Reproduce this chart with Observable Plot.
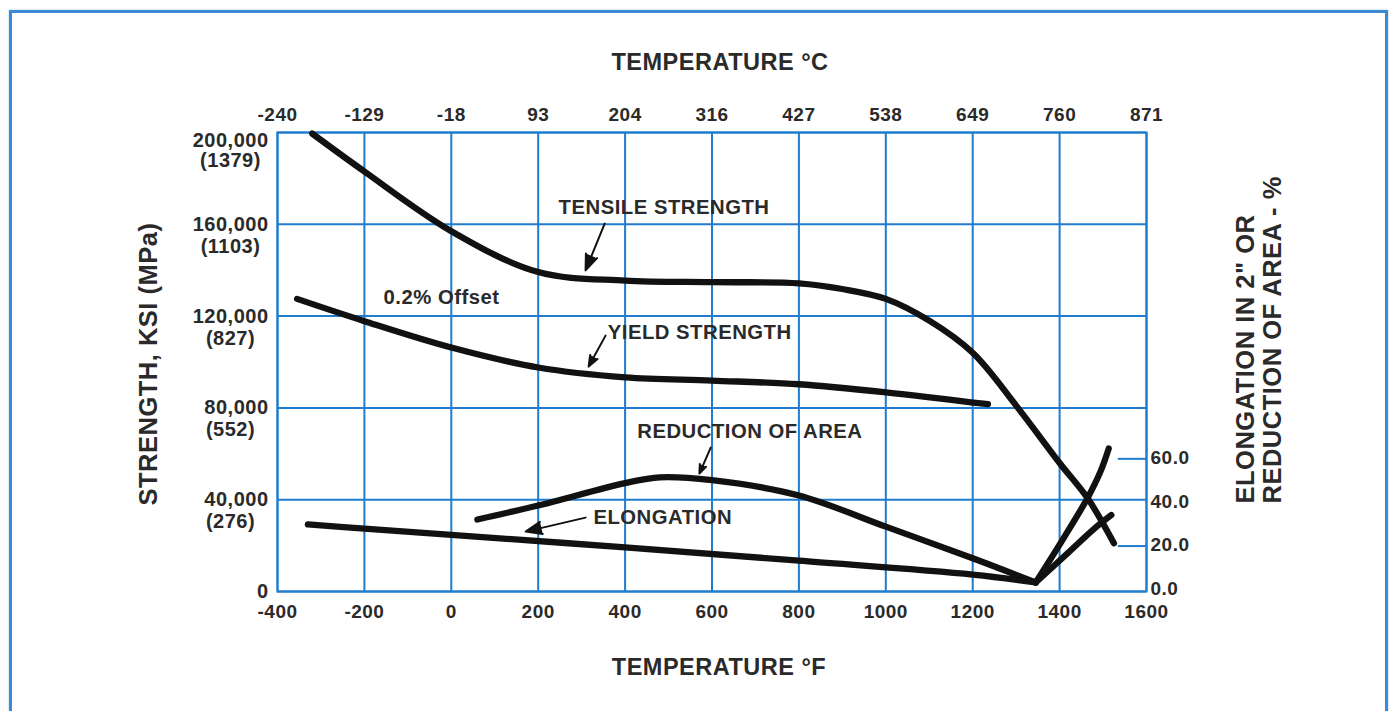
<!DOCTYPE html>
<html>
<head>
<meta charset="utf-8">
<script src="https://cdn.jsdelivr.net/npm/d3@7"></script>
<script src="https://cdn.jsdelivr.net/npm/@observablehq/plot@0.6"></script>
<style>
  html, body { margin: 0; padding: 0; background: #fff; }
  #wrap { position: relative; width: 1392px; height: 711px; overflow: hidden; }
  #border { position: absolute; left: 9px; top: 10px; width: 1373px; height: 740px;
            border: 3px solid #3b8ad3; box-shadow: 0 0 2px #9cc6ec; }
  #chart { position: absolute; left: 0; top: 0; }
</style>
</head>
<body>
<div id="wrap"><div id="border"></div><div id="chart"></div></div>
<script>
// ---- axis ticks ----
const fTicks = [-400, -200, 0, 200, 400, 600, 800, 1000, 1200, 1400, 1600];
const cLabels = ["-240", "-129", "-18", "93", "204", "316", "427", "538", "649", "760", "871"];
const psiTicks = [0, 40000, 80000, 120000, 160000, 200000];
const mpaLabels = ["", "(276)", "(552)", "(827)", "(1103)", "(1379)"];
const pctTicks = [0, 20, 40, 60];
const pctTickMarks = [20, 60];

// ---- curves (temperature °F, strength psi) ----
const tensileF   = [-320, -200, 0, 200, 400, 600, 800, 900, 1000, 1100, 1200, 1300, 1400, 1465, 1525];
const tensilePsi = [199500, 183000, 157000, 139200, 135500, 134800, 134300, 131800, 127500, 118000, 104000, 81000, 56000, 40500, 21000];

const yieldF   = [-355, -200, 0, 200, 400, 600, 800, 1000, 1235];
const yieldPsi = [127500, 117800, 106300, 97600, 93300, 91900, 90300, 86800, 81600];

// ---- curves (temperature °F, percent, read on the right axis) ----
const raFallF   = [60, 200, 400, 480, 600, 800, 1000, 1200, 1345];
const raFallPct = [32.2, 38.6, 48.9, 51.5, 50.2, 43.2, 28.9, 14.4, 3.3];
const raRiseF   = [1345, 1410, 1465, 1495, 1513];
const raRisePct = [3.3, 23.9, 42.3, 54.6, 64.7];

const elFallF   = [-330, -200, 0, 400, 800, 1200, 1345];
const elFallPct = [29.9, 28.0, 25.1, 19.4, 13.3, 6.9, 3.3];
const elRiseF   = [1345, 1420, 1480, 1519];
const elRisePct = [3.3, 17.0, 28.0, 34.2];

// ---- annotations (°F, psi) ----
const labelText = ["TENSILE STRENGTH", "0.2% Offset", "YIELD STRENGTH", "REDUCTION OF AREA", "ELONGATION"];
const labelF    = [247, -156, 360, 428, 327];
const labelPsi  = [167300, 128100, 112800, 69700, 32200];
const arrowF1   = [353, 355, 597, 309];
const arrowPsi1 = [160300, 111500, 62700, 32200];
const arrowF2   = [309, 316, 571, 171];
const arrowPsi2 = [139900, 98000, 51400, 26100];

// right axis (percent) placed on the strength scale
const pctToPsi = p => p * 950 + 800;

// ---- build tables ----
const series = (xs, ys, fn = v => v) => xs.map((f, i) => ({f, v: fn(ys[i])}));
const tensile = series(tensileF, tensilePsi);
const yld = series(yieldF, yieldPsi);
const raFall = series(raFallF, raFallPct, pctToPsi);
const raRise = series(raRiseF, raRisePct, pctToPsi);
const elFall = series(elFallF, elFallPct, pctToPsi);
const elRise = series(elRiseF, elRisePct, pctToPsi);
const labels = labelText.map((t, i) => ({t, f: labelF[i], v: labelPsi[i]}));
const arrows = arrowF1.map((f, i) => ({x1: f, y1: arrowPsi1[i], x2: arrowF2[i], y2: arrowPsi2[i]}));
const mpa = psiTicks.map((v, i) => ({v, t: mpaLabels[i]})).filter(d => d.t);

const BLUE = "#1f7ccf";
const INK = "#2a2a2a";
const curveStyle = {x: "f", y: "v", stroke: "#111", strokeWidth: 6.3, strokeLinecap: "round", strokeLinejoin: "round"};

const chart = Plot.plot({
  width: 1392,
  height: 711,
  marginLeft: 277,
  marginRight: 246,
  marginTop: 132,
  marginBottom: 120,
  style: {fontFamily: "'Liberation Sans', Arial, sans-serif", fontWeight: "bold", color: INK, background: "transparent", letterSpacing: "0.5px"},
  x: {domain: [-400, 1600]},
  y: {domain: [0, 200000]},
  marks: [
    Plot.gridX(fTicks, {stroke: BLUE, strokeOpacity: 1, strokeWidth: 2}),
    Plot.gridY(psiTicks, {stroke: BLUE, strokeOpacity: 1, strokeWidth: 2}),
    Plot.ruleY(pctTickMarks, {y: d => pctToPsi(d), x1: 1535, x2: 1600, stroke: BLUE, strokeWidth: 2}),
    Plot.frame({stroke: BLUE, strokeWidth: 2}),
    Plot.axisX(fTicks, {anchor: "bottom", tickSize: 0, tickPadding: 13, fontSize: 19, tickFormat: d => String(d), label: null}),
    Plot.axisX(fTicks, {anchor: "top", tickSize: 0, tickPadding: 12, fontSize: 19, tickFormat: d => cLabels[fTicks.indexOf(d)], label: null}),
    Plot.axisY(psiTicks.filter(d => d < 200000), {anchor: "left", tickSize: 0, tickPadding: 9, fontSize: 20, tickFormat: d3.format(","), label: null}),
    Plot.text([200000], {y: d => d, text: d => d3.format(",")(d), frameAnchor: "left", dx: -9, dy: 8, textAnchor: "end", fontSize: 20}),
    Plot.text(mpa.filter(d => d.v < 200000), {y: "v", text: "t", frameAnchor: "left", dx: -47, dy: 22, textAnchor: "middle", fontSize: 20}),
    Plot.text(mpa.filter(d => d.v === 200000), {y: "v", text: "t", frameAnchor: "left", dx: -47, dy: 28, textAnchor: "middle", fontSize: 20}),
    Plot.text(pctTicks, {y: d => pctToPsi(d), text: d => d.toFixed(1), frameAnchor: "right", dx: 4, dy: -1, textAnchor: "start", fontSize: 19}),
    Plot.text(["TEMPERATURE °C"], {frameAnchor: "top", lineAnchor: "middle", dx: 8, dy: -70, fontSize: 23.5, letterSpacing: "1.2px"}),
    Plot.text(["TEMPERATURE °F"], {frameAnchor: "bottom", lineAnchor: "middle", dx: 7, dy: 76, fontSize: 23.5, letterSpacing: "1.2px"}),
    Plot.text(["STRENGTH, KSI (MPa)"], {frameAnchor: "bottom-left", lineAnchor: "middle", dx: -129, dy: -86, rotate: -90, textAnchor: "start", fontSize: 25.5, letterSpacing: "1px"}),
    Plot.text(["ELONGATION IN 2\" OR"], {frameAnchor: "bottom-right", lineAnchor: "middle", dx: 99, dy: -88, rotate: -90, textAnchor: "start", fontSize: 25.5, letterSpacing: "1.2px"}),
    Plot.text(["REDUCTION OF AREA - %"], {frameAnchor: "bottom-right", lineAnchor: "middle", dx: 126, dy: -88, rotate: -90, textAnchor: "start", fontSize: 25.5, letterSpacing: "1.6px"}),
    Plot.line(tensile, {...curveStyle, curve: "catmull-rom"}),
    Plot.line(yld, {...curveStyle, curve: "catmull-rom"}),
    Plot.line(raFall, {...curveStyle, curve: "catmull-rom"}),
    Plot.line(raRise, {...curveStyle, curve: "catmull-rom"}),
    Plot.line(elFall, {...curveStyle, curve: "catmull-rom"}),
    Plot.line(elRise, {...curveStyle, curve: "catmull-rom"}),
    Plot.arrow(arrows, {x1: "x1", y1: "y1", x2: "x2", y2: "y2", stroke: "#111", strokeWidth: 2, headLength: 13, headAngle: 42}),
    Plot.text(labels, {x: "f", y: "v", text: "t", textAnchor: "start", fontSize: 20.3, letterSpacing: "0.8px"})
  ]
});
// fill the arrow heads (the head sub-path closes into a triangle)
d3.select(chart).selectAll('g[aria-label="arrow"] path').attr("fill", "#111").attr("stroke-linejoin", "miter");
document.getElementById("chart").appendChild(chart);
</script>
</body>
</html>
